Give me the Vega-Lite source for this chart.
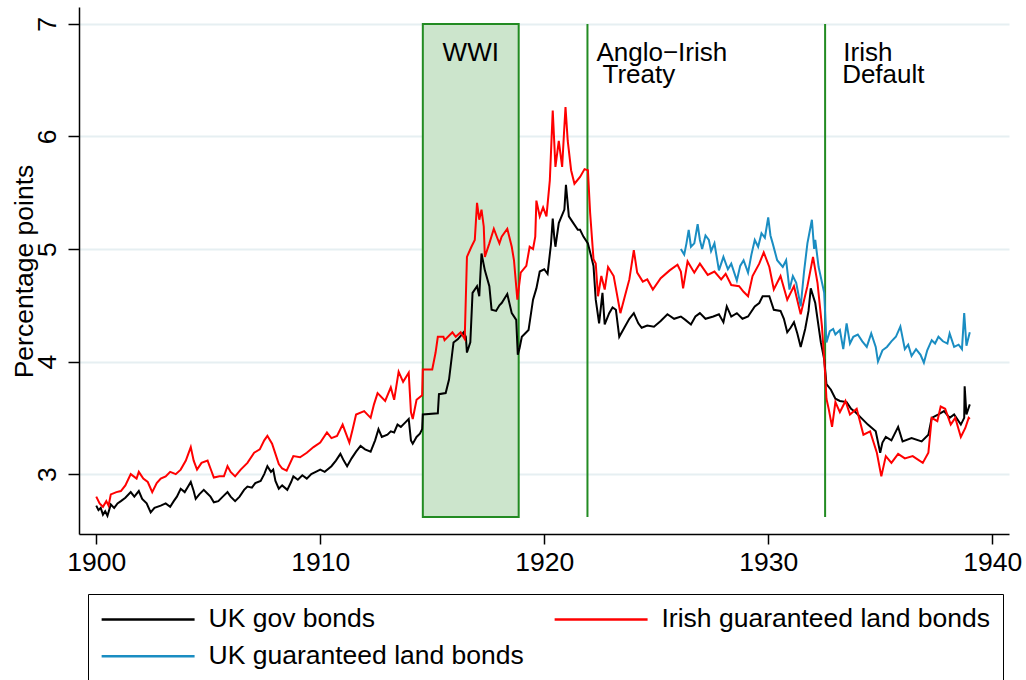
{
  "$schema": "https://vega.github.io/schema/vega-lite/v6.json",
  "width": 930,
  "height": 527,
  "autosize": {"type": "none"},
  "padding": {"left": 79, "top": 7, "right": 17, "bottom": 146},
  "background": "white",
  "config": {
    "view": {"stroke": null},
    "font": "Liberation Sans",
    "axis": {
      "domainColor": "black", "domainWidth": 1.5, "tickColor": "black", "tickWidth": 1.5,
      "labelFont": "Liberation Sans", "labelFontSize": 26.5, "labelColor": "black",
      "titleFont": "Liberation Sans", "titleFontSize": 26.5, "titleFontWeight": "normal", "titleColor": "black",
      "labelFlush": false
    },
    "axisX": {"grid": false, "tickSize": 10, "labelPadding": 5, "labelBaseline": "top"},
    "axisY": {
      "grid": true, "gridColor": "#e6eff2", "gridWidth": 2, "tickSize": 11,
      "labelAngle": -90, "labelAlign": "center", "labelBaseline": "alphabetic", "labelPadding": 13,
      "titleAngle": -90, "titleAlign": "center", "titleBaseline": "alphabetic", "titleX": -47, "titleY": 264
    }
  },
  "datasets": {
    "events": [
      {"event": "WWI", "start": 1914.58, "end": 1918.86},
      {"event": "Anglo−Irish Treaty", "start": 1921.93},
      {"event": "Irish Default", "start": 1932.54}
    ],
    "notes": [
      {"label": "Anglo−Irish", "t": 1922.33, "v": 6.671},
      {"label": "Treaty", "t": 1922.6, "v": 6.476},
      {"label": "Irish", "t": 1933.35, "v": 6.671},
      {"label": "Default", "t": 1933.3, "v": 6.476}
    ],
    "ukgov": [
      {"t":1900.00,"v":2.72},{"t":1900.10,"v":2.68},{"t":1900.20,"v":2.70},{"t":1900.30,"v":2.64},{"t":1900.40,"v":2.67},{"t":1900.50,"v":2.63},{"t":1900.65,"v":2.73},{"t":1900.80,"v":2.70},{"t":1900.95,"v":2.74},
      {"t":1901.10,"v":2.76},{"t":1901.30,"v":2.79},{"t":1901.54,"v":2.84},{"t":1901.70,"v":2.80},{"t":1901.90,"v":2.85},{"t":1902.05,"v":2.78},{"t":1902.25,"v":2.74},{"t":1902.43,"v":2.66},{"t":1902.60,"v":2.70},{"t":1902.88,"v":2.72},
      {"t":1903.10,"v":2.74},{"t":1903.30,"v":2.71},{"t":1903.46,"v":2.76},{"t":1903.60,"v":2.80},{"t":1903.77,"v":2.87},{"t":1903.95,"v":2.84},{"t":1904.10,"v":2.89},{"t":1904.22,"v":2.93},{"t":1904.35,"v":2.85},{"t":1904.44,"v":2.78},
      {"t":1904.60,"v":2.82},{"t":1904.80,"v":2.86},{"t":1904.95,"v":2.83},{"t":1905.10,"v":2.80},{"t":1905.25,"v":2.75},{"t":1905.45,"v":2.76},{"t":1905.65,"v":2.80},{"t":1905.86,"v":2.84},{"t":1906.00,"v":2.80},{"t":1906.20,"v":2.76},
      {"t":1906.40,"v":2.80},{"t":1906.60,"v":2.86},{"t":1906.75,"v":2.89},{"t":1906.95,"v":2.88},{"t":1907.10,"v":2.92},{"t":1907.34,"v":2.94},{"t":1907.50,"v":3.00},{"t":1907.64,"v":3.07},{"t":1907.80,"v":3.02},{"t":1907.90,"v":3.04},
      {"t":1908.00,"v":2.94},{"t":1908.15,"v":2.87},{"t":1908.30,"v":2.90},{"t":1908.53,"v":2.86},{"t":1908.70,"v":2.93},{"t":1908.80,"v":2.98},{"t":1909.00,"v":2.95},{"t":1909.20,"v":2.99},{"t":1909.40,"v":2.96},{"t":1909.60,"v":3.00},
      {"t":1909.80,"v":3.02},{"t":1910.00,"v":3.04},{"t":1910.20,"v":3.02},{"t":1910.50,"v":3.07},{"t":1910.70,"v":3.12},{"t":1910.90,"v":3.18},{"t":1911.05,"v":3.12},{"t":1911.20,"v":3.07},{"t":1911.40,"v":3.14},{"t":1911.60,"v":3.20},
      {"t":1911.80,"v":3.25},{"t":1912.00,"v":3.22},{"t":1912.25,"v":3.20},{"t":1912.45,"v":3.30},{"t":1912.60,"v":3.40},{"t":1912.75,"v":3.33},{"t":1913.00,"v":3.35},{"t":1913.15,"v":3.38},{"t":1913.30,"v":3.37},{"t":1913.45,"v":3.44},
      {"t":1913.60,"v":3.42},{"t":1913.80,"v":3.46},{"t":1913.95,"v":3.49},{"t":1914.05,"v":3.30},{"t":1914.13,"v":3.27},{"t":1914.30,"v":3.33},{"t":1914.45,"v":3.36},{"t":1914.55,"v":3.40},{"t":1914.58,"v":3.53},{"t":1915.25,"v":3.54},
      {"t":1915.30,"v":3.71},{"t":1915.60,"v":3.72},{"t":1915.75,"v":3.84},{"t":1915.95,"v":4.17},{"t":1916.15,"v":4.20},{"t":1916.40,"v":4.26},{"t":1916.50,"v":4.22},{"t":1916.55,"v":4.08},{"t":1916.70,"v":4.17},{"t":1916.80,"v":4.61},
      {"t":1917.00,"v":4.67},{"t":1917.10,"v":4.58},{"t":1917.20,"v":4.96},{"t":1917.35,"v":4.81},{"t":1917.55,"v":4.67},{"t":1917.65,"v":4.46},{"t":1917.85,"v":4.45},{"t":1918.00,"v":4.50},{"t":1918.10,"v":4.52},{"t":1918.35,"v":4.60},
      {"t":1918.55,"v":4.43},{"t":1918.75,"v":4.37},{"t":1918.82,"v":4.06},{"t":1918.90,"v":4.12},{"t":1919.00,"v":4.22},{"t":1919.30,"v":4.28},{"t":1919.50,"v":4.55},{"t":1919.65,"v":4.65},{"t":1919.80,"v":4.80},{"t":1920.00,"v":4.82},
      {"t":1920.15,"v":4.78},{"t":1920.30,"v":5.04},{"t":1920.38,"v":5.27},{"t":1920.45,"v":5.10},{"t":1920.50,"v":5.02},{"t":1920.65,"v":5.23},{"t":1920.90,"v":5.35},{"t":1920.97,"v":5.57},{"t":1921.10,"v":5.29},{"t":1921.30,"v":5.23},
      {"t":1921.50,"v":5.17},{"t":1921.60,"v":5.17},{"t":1921.75,"v":5.11},{"t":1921.95,"v":5.05},{"t":1922.10,"v":4.93},{"t":1922.20,"v":4.85},{"t":1922.30,"v":4.55},{"t":1922.45,"v":4.34},{"t":1922.60,"v":4.61},{"t":1922.70,"v":4.33},
      {"t":1922.90,"v":4.43},{"t":1923.05,"v":4.48},{"t":1923.20,"v":4.46},{"t":1923.35,"v":4.22},{"t":1923.60,"v":4.31},{"t":1923.80,"v":4.38},{"t":1924.00,"v":4.43},{"t":1924.20,"v":4.34},{"t":1924.35,"v":4.30},{"t":1924.60,"v":4.32},
      {"t":1924.90,"v":4.31},{"t":1925.20,"v":4.36},{"t":1925.50,"v":4.42},{"t":1925.80,"v":4.38},{"t":1926.10,"v":4.40},{"t":1926.30,"v":4.37},{"t":1926.55,"v":4.33},{"t":1926.75,"v":4.40},{"t":1926.95,"v":4.43},{"t":1927.20,"v":4.38},
      {"t":1927.55,"v":4.40},{"t":1927.80,"v":4.42},{"t":1928.00,"v":4.35},{"t":1928.15,"v":4.49},{"t":1928.35,"v":4.40},{"t":1928.60,"v":4.43},{"t":1928.85,"v":4.38},{"t":1929.10,"v":4.40},{"t":1929.40,"v":4.49},{"t":1929.60,"v":4.52},
      {"t":1929.75,"v":4.58},{"t":1930.05,"v":4.58},{"t":1930.25,"v":4.46},{"t":1930.55,"v":4.45},{"t":1930.70,"v":4.38},{"t":1930.85,"v":4.26},{"t":1931.00,"v":4.30},{"t":1931.15,"v":4.35},{"t":1931.30,"v":4.25},{"t":1931.45,"v":4.13},
      {"t":1931.65,"v":4.29},{"t":1931.80,"v":4.45},{"t":1931.90,"v":4.65},{"t":1932.10,"v":4.52},{"t":1932.35,"v":4.17},{"t":1932.50,"v":4.02},{"t":1932.60,"v":3.80},{"t":1932.80,"v":3.75},{"t":1933.00,"v":3.67},{"t":1933.20,"v":3.65},
      {"t":1933.50,"v":3.64},{"t":1933.70,"v":3.58},{"t":1933.90,"v":3.55},{"t":1934.15,"v":3.50},{"t":1934.45,"v":3.44},{"t":1934.80,"v":3.38},{"t":1935.00,"v":3.19},{"t":1935.10,"v":3.28},{"t":1935.25,"v":3.33},{"t":1935.50,"v":3.30},
      {"t":1935.80,"v":3.42},{"t":1936.00,"v":3.29},{"t":1936.40,"v":3.32},{"t":1936.85,"v":3.29},{"t":1937.15,"v":3.35},{"t":1937.30,"v":3.50},{"t":1937.60,"v":3.53},{"t":1937.85,"v":3.56},{"t":1938.10,"v":3.50},{"t":1938.30,"v":3.53},
      {"t":1938.60,"v":3.44},{"t":1938.75,"v":3.50},{"t":1938.77,"v":3.78},{"t":1938.85,"v":3.53},{"t":1939.00,"v":3.62}
    ],
    "irish": [
      {"t":1900.00,"v":2.80},{"t":1900.15,"v":2.74},{"t":1900.30,"v":2.71},{"t":1900.45,"v":2.76},{"t":1900.55,"v":2.72},{"t":1900.65,"v":2.82},{"t":1900.90,"v":2.84},{"t":1901.10,"v":2.85},{"t":1901.30,"v":2.90},{"t":1901.54,"v":3.00},
      {"t":1901.80,"v":2.96},{"t":1901.90,"v":3.02},{"t":1902.10,"v":2.96},{"t":1902.30,"v":2.93},{"t":1902.50,"v":2.84},{"t":1902.70,"v":2.92},{"t":1902.88,"v":2.96},{"t":1903.10,"v":2.98},{"t":1903.30,"v":3.02},{"t":1903.55,"v":3.00},
      {"t":1903.77,"v":3.04},{"t":1904.00,"v":3.12},{"t":1904.22,"v":3.24},{"t":1904.35,"v":3.12},{"t":1904.50,"v":3.04},{"t":1904.70,"v":3.10},{"t":1904.97,"v":3.12},{"t":1905.10,"v":3.05},{"t":1905.25,"v":2.97},{"t":1905.50,"v":2.98},
      {"t":1905.70,"v":2.98},{"t":1905.86,"v":3.07},{"t":1906.00,"v":3.02},{"t":1906.20,"v":2.98},{"t":1906.45,"v":3.04},{"t":1906.75,"v":3.10},{"t":1907.05,"v":3.19},{"t":1907.30,"v":3.22},{"t":1907.50,"v":3.30},{"t":1907.64,"v":3.34},
      {"t":1907.85,"v":3.27},{"t":1908.00,"v":3.18},{"t":1908.15,"v":3.09},{"t":1908.30,"v":3.05},{"t":1908.50,"v":3.03},{"t":1908.80,"v":3.16},{"t":1909.10,"v":3.15},{"t":1909.40,"v":3.19},{"t":1909.70,"v":3.24},{"t":1910.00,"v":3.28},
      {"t":1910.30,"v":3.37},{"t":1910.50,"v":3.32},{"t":1910.75,"v":3.34},{"t":1911.00,"v":3.44},{"t":1911.15,"v":3.36},{"t":1911.30,"v":3.28},{"t":1911.45,"v":3.40},{"t":1911.60,"v":3.53},{"t":1911.96,"v":3.56},{"t":1912.25,"v":3.50},
      {"t":1912.40,"v":3.62},{"t":1912.56,"v":3.72},{"t":1912.90,"v":3.65},{"t":1913.15,"v":3.77},{"t":1913.30,"v":3.66},{"t":1913.50,"v":3.91},{"t":1913.70,"v":3.82},{"t":1913.95,"v":3.90},{"t":1914.05,"v":3.55},{"t":1914.13,"v":3.49},
      {"t":1914.30,"v":3.66},{"t":1914.55,"v":3.70},{"t":1914.58,"v":3.93},{"t":1915.00,"v":3.93},{"t":1915.15,"v":4.08},{"t":1915.25,"v":4.22},{"t":1915.50,"v":4.22},{"t":1915.55,"v":4.19},{"t":1915.90,"v":4.26},{"t":1916.05,"v":4.22},
      {"t":1916.27,"v":4.26},{"t":1916.45,"v":4.20},{"t":1916.55,"v":4.93},{"t":1916.75,"v":5.02},{"t":1916.90,"v":5.08},{"t":1917.00,"v":5.41},{"t":1917.10,"v":5.26},{"t":1917.20,"v":5.35},{"t":1917.30,"v":5.20},{"t":1917.35,"v":4.93},
      {"t":1917.55,"v":5.05},{"t":1917.75,"v":5.18},{"t":1917.90,"v":5.10},{"t":1918.00,"v":5.05},{"t":1918.10,"v":5.11},{"t":1918.35,"v":5.18},{"t":1918.55,"v":5.02},{"t":1918.65,"v":4.90},{"t":1918.80,"v":4.55},{"t":1918.95,"v":4.79},
      {"t":1919.20,"v":4.85},{"t":1919.35,"v":5.02},{"t":1919.50,"v":5.00},{"t":1919.60,"v":5.11},{"t":1919.65,"v":5.43},{"t":1919.80,"v":5.29},{"t":1919.95,"v":5.37},{"t":1920.10,"v":5.29},{"t":1920.25,"v":5.61},{"t":1920.38,"v":6.23},
      {"t":1920.50,"v":5.73},{"t":1920.65,"v":5.96},{"t":1920.80,"v":5.73},{"t":1920.88,"v":6.02},{"t":1920.95,"v":6.26},{"t":1921.05,"v":5.96},{"t":1921.20,"v":5.70},{"t":1921.35,"v":5.58},{"t":1921.60,"v":5.64},{"t":1921.80,"v":5.71},
      {"t":1921.95,"v":5.70},{"t":1922.05,"v":5.32},{"t":1922.20,"v":4.91},{"t":1922.30,"v":4.87},{"t":1922.40,"v":4.58},{"t":1922.55,"v":4.76},{"t":1922.70,"v":4.64},{"t":1922.85,"v":4.84},{"t":1923.10,"v":4.76},{"t":1923.20,"v":4.65},
      {"t":1923.40,"v":4.43},{"t":1923.60,"v":4.58},{"t":1923.80,"v":4.73},{"t":1924.00,"v":4.99},{"t":1924.15,"v":4.79},{"t":1924.40,"v":4.71},{"t":1924.60,"v":4.73},{"t":1924.85,"v":4.64},{"t":1925.20,"v":4.74},{"t":1925.60,"v":4.81},
      {"t":1925.95,"v":4.86},{"t":1926.10,"v":4.80},{"t":1926.20,"v":4.65},{"t":1926.40,"v":4.89},{"t":1926.70,"v":4.79},{"t":1926.95,"v":4.87},{"t":1927.30,"v":4.77},{"t":1927.60,"v":4.80},{"t":1927.90,"v":4.73},{"t":1928.10,"v":4.78},
      {"t":1928.35,"v":4.68},{"t":1928.70,"v":4.67},{"t":1928.90,"v":4.62},{"t":1929.10,"v":4.58},{"t":1929.30,"v":4.76},{"t":1929.60,"v":4.87},{"t":1929.80,"v":4.97},{"t":1930.05,"v":4.84},{"t":1930.25,"v":4.64},{"t":1930.55,"v":4.76},
      {"t":1930.85,"v":4.55},{"t":1931.15,"v":4.67},{"t":1931.45,"v":4.42},{"t":1931.75,"v":4.67},{"t":1932.00,"v":4.93},{"t":1932.20,"v":4.70},{"t":1932.40,"v":4.31},{"t":1932.55,"v":3.87},{"t":1932.60,"v":3.67},{"t":1932.70,"v":3.58},
      {"t":1932.85,"v":3.42},{"t":1933.00,"v":3.64},{"t":1933.20,"v":3.55},{"t":1933.45,"v":3.65},{"t":1933.65,"v":3.53},{"t":1933.95,"v":3.58},{"t":1934.25,"v":3.35},{"t":1934.55,"v":3.38},{"t":1934.85,"v":3.19},{"t":1935.05,"v":2.98},
      {"t":1935.25,"v":3.16},{"t":1935.50,"v":3.10},{"t":1935.80,"v":3.18},{"t":1936.10,"v":3.14},{"t":1936.45,"v":3.16},{"t":1936.90,"v":3.10},{"t":1937.15,"v":3.19},{"t":1937.30,"v":3.50},{"t":1937.55,"v":3.47},{"t":1937.70,"v":3.60},
      {"t":1937.90,"v":3.58},{"t":1938.15,"v":3.44},{"t":1938.35,"v":3.50},{"t":1938.60,"v":3.33},{"t":1938.80,"v":3.41},{"t":1938.95,"v":3.50},{"t":1939.00,"v":3.49}
    ],
    "ukland": [
      {"t":1926.10,"v":5.00},{"t":1926.25,"v":4.95},{"t":1926.35,"v":5.05},{"t":1926.45,"v":5.17},{"t":1926.55,"v":5.02},{"t":1926.70,"v":5.05},{"t":1926.85,"v":5.22},{"t":1926.95,"v":5.08},{"t":1927.05,"v":5.00},{"t":1927.20,"v":5.12},
      {"t":1927.35,"v":5.08},{"t":1927.45,"v":4.98},{"t":1927.60,"v":5.05},{"t":1927.80,"v":4.81},{"t":1928.00,"v":4.93},{"t":1928.20,"v":4.82},{"t":1928.35,"v":4.87},{"t":1928.60,"v":4.72},{"t":1928.75,"v":4.85},{"t":1928.90,"v":4.90},
      {"t":1929.10,"v":4.79},{"t":1929.25,"v":4.95},{"t":1929.40,"v":5.08},{"t":1929.55,"v":5.02},{"t":1929.70,"v":5.14},{"t":1929.85,"v":5.10},{"t":1930.00,"v":5.28},{"t":1930.10,"v":5.12},{"t":1930.20,"v":5.05},{"t":1930.40,"v":4.90},
      {"t":1930.65,"v":4.84},{"t":1930.80,"v":4.90},{"t":1930.95,"v":4.64},{"t":1931.10,"v":4.76},{"t":1931.25,"v":4.70},{"t":1931.45,"v":4.49},{"t":1931.60,"v":4.80},{"t":1931.75,"v":5.05},{"t":1931.95,"v":5.26},{"t":1932.05,"v":5.00},
      {"t":1932.10,"v":5.08},{"t":1932.25,"v":4.84},{"t":1932.50,"v":4.61},{"t":1932.60,"v":4.17},{"t":1932.75,"v":4.27},{"t":1932.90,"v":4.29},{"t":1933.00,"v":4.24},{"t":1933.20,"v":4.28},{"t":1933.35,"v":4.11},{"t":1933.50,"v":4.34},
      {"t":1933.65,"v":4.16},{"t":1933.80,"v":4.22},{"t":1934.00,"v":4.24},{"t":1934.20,"v":4.18},{"t":1934.40,"v":4.13},{"t":1934.60,"v":4.25},{"t":1934.80,"v":4.13},{"t":1934.90,"v":4.00},{"t":1935.10,"v":4.10},{"t":1935.30,"v":4.13},
      {"t":1935.50,"v":4.18},{"t":1935.70,"v":4.22},{"t":1935.90,"v":4.31},{"t":1936.10,"v":4.11},{"t":1936.25,"v":4.15},{"t":1936.40,"v":4.05},{"t":1936.60,"v":4.11},{"t":1936.80,"v":4.06},{"t":1936.95,"v":3.99},{"t":1937.10,"v":4.10},
      {"t":1937.30,"v":4.19},{"t":1937.45,"v":4.16},{"t":1937.60,"v":4.22},{"t":1937.80,"v":4.18},{"t":1938.00,"v":4.16},{"t":1938.10,"v":4.25},{"t":1938.30,"v":4.13},{"t":1938.50,"v":4.15},{"t":1938.65,"v":4.11},{"t":1938.75,"v":4.43},
      {"t":1938.85,"v":4.14},{"t":1939.00,"v":4.26}
    ]
  },
  "layer": [
    {
      "data": {"name": "events"},
      "transform": [{"filter": "datum.event === 'WWI'"}],
      "mark": {"type": "rect", "fill": "#cce5cc", "stroke": "#228b22", "strokeWidth": 2},
      "encoding": {
        "x": {"field": "start", "type": "quantitative", "title": null, "scale": {"domain": [1899.23, 1940.75], "nice": false, "zero": false}},
        "x2": {"field": "end"},
        "y": {"datum": 2.62, "type": "quantitative", "title": "Percentage points", "scale": {"domain": [2.468, 7.15], "nice": false, "zero": false}},
        "y2": {"datum": 7.0}
      }
    },
    {
      "data": {"name": "events"},
      "transform": [{"filter": "datum.event !== 'WWI'"}],
      "mark": {"type": "rule", "stroke": "#228b22", "strokeWidth": 2},
      "encoding": {
        "x": {"field": "start", "type": "quantitative", "title": null},
        "y": {"datum": 2.62, "type": "quantitative", "title": "Percentage points"},
        "y2": {"datum": 7.0}
      }
    },
    {
      "data": {"name": "ukgov"},
      "mark": {"type": "line", "strokeWidth": 2},
      "encoding": {
        "x": {"field": "t", "type": "quantitative", "title": null, "axis": {"values": [1900, 1910, 1920, 1930, 1940], "format": "d"}},
        "y": {"field": "v", "type": "quantitative", "title": "Percentage points", "axis": {"values": [3, 4, 5, 6, 7], "format": "d"}},
        "color": {
          "datum": "UK gov bonds",
          "type": "nominal",
          "scale": {"domain": ["UK gov bonds", "Irish guaranteed land bonds", "UK guaranteed land bonds"], "range": ["#000000", "#ff0000", "#1a8dc2"]},
          "legend": {
            "orient": "none", "legendX": 9, "legendY": 587, "columns": 2, "direction": "horizontal", "title": null,
            "symbolType": "M-1,0H7", "symbolSize": 540, "symbolStrokeWidth": 2.5,
            "labelFont": "Liberation Sans", "labelFontSize": 26.5, "labelColor": "black", "labelOffset": 82, "labelLimit": 600,
            "columnPadding": 25, "rowPadding": 10, "padding": 12, "strokeColor": "black"
          }
        }
      }
    },
    {
      "data": {"name": "irish"},
      "mark": {"type": "line", "strokeWidth": 2},
      "encoding": {
        "x": {"field": "t", "type": "quantitative", "title": null},
        "y": {"field": "v", "type": "quantitative", "title": "Percentage points"},
        "color": {"datum": "Irish guaranteed land bonds", "type": "nominal"}
      }
    },
    {
      "data": {"name": "ukland"},
      "mark": {"type": "line", "strokeWidth": 2},
      "encoding": {
        "x": {"field": "t", "type": "quantitative", "title": null},
        "y": {"field": "v", "type": "quantitative", "title": "Percentage points"},
        "color": {"datum": "UK guaranteed land bonds", "type": "nominal"}
      }
    },
    {
      "data": {"values": [{"label": "WWI"}]},
      "mark": {"type": "text", "font": "Liberation Sans", "fontSize": 26, "color": "black", "align": "center", "baseline": "alphabetic"},
      "encoding": {
        "x": {"datum": 1916.72, "type": "quantitative"},
        "y": {"datum": 6.671, "type": "quantitative"},
        "text": {"field": "label"}
      }
    },
    {
      "data": {"name": "notes"},
      "mark": {"type": "text", "font": "Liberation Sans", "fontSize": 26, "color": "black", "align": "left", "baseline": "alphabetic"},
      "encoding": {
        "x": {"field": "t", "type": "quantitative", "title": null},
        "y": {"field": "v", "type": "quantitative", "title": "Percentage points"},
        "text": {"field": "label"}
      }
    }
  ]
}
